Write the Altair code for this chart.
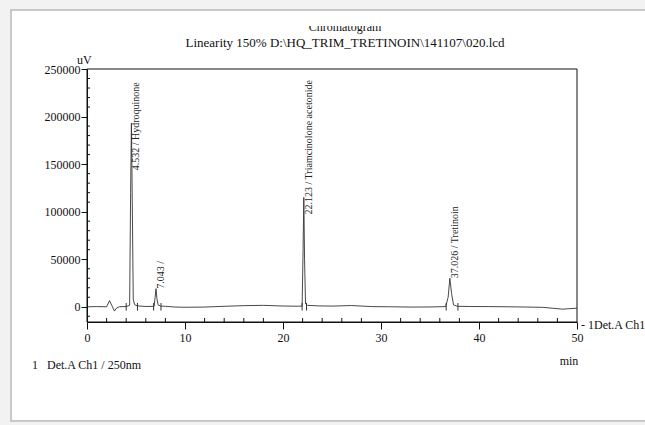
import altair as alt
import pandas as pd

# ---- data ----
trace_time = [0, 1.0, 2.0, 2.3, 2.55, 2.8, 3.0, 3.3, 4.0, 4.35, 4.45, 4.532, 4.62, 4.72, 4.85,
              5.0, 5.3, 6.0, 6.85, 6.95, 7.043, 7.13, 7.25, 7.5, 8, 9, 10, 12, 14, 16, 18, 20,
              21.5, 21.95, 22.05, 22.123, 22.2, 22.3, 22.5, 23.5, 25, 27, 29, 31, 33, 35, 36.6,
              36.85, 37.026, 37.2, 37.4, 37.8, 39, 41, 43, 45, 46.5, 47.5, 48.5, 49.2, 50]
trace_uv = [0, 200, 0, 6500, 1000, -4500, -1500, 0, 300, 1500, 120000, 193000, 110000, 8000, 2500,
            1500, 800, 300, 500, 10000, 19000, 9000, 2000, 800, 500, -300, -500, -300, 500, 1200, 1500, 800,
            600, 700, 60000, 115000, 50000, 3000, 1500, 1000, 700, 1300, 200, 0, -300, -200, 200,
            10000, 30000, 14000, 2000, 500, 300, 200, 0, -300, -600, -1500, -2500, -2000, -1500]

peak_times = [4.532, 7.043, 22.123, 37.026]
peak_labels = ["4.532 / Hydroquinone", "7.043 /", "22.123 / Triamcinolone acetonide", "37.026 / Tretinoin"]
label_uv = [143500, 19000, 97000, 30000]

marker_times = [4.0, 5.15, 6.8, 7.55, 21.95, 22.4, 36.65, 37.85]

x_major = [0, 10, 20, 30, 40, 50]
x_minor = [2, 4, 6, 8, 12, 14, 16, 18, 22, 24, 26, 28, 32, 34, 36, 38, 42, 44, 46, 48]
y_major = [0, 50000, 100000, 150000, 200000, 250000]
y_minor = [-10000, 10000, 20000, 30000, 40000, 60000, 70000, 80000, 90000, 110000, 120000,
           130000, 140000, 160000, 170000, 180000, 190000, 210000, 220000, 230000, 240000]

title_text = "Linearity 150%  D:\\HQ_TRIM_TRETINOIN\\141107\\020.lcd"
FONT = "Liberation Serif"

trace = pd.DataFrame({"t": trace_time, "uv": trace_uv})
peaks = pd.DataFrame({"t": peak_times, "label": peak_labels, "uv": label_uv})
markers = pd.DataFrame({"t": marker_times, "uv": [-4000] * len(marker_times), "hi": [4000] * len(marker_times)})
xmin_df = pd.DataFrame({"t": x_minor})
ymin_df = pd.DataFrame({"uv": y_minor})
one = pd.DataFrame({"a": [0]})

xs = alt.Scale(domain=[0, 50], nice=False, zero=False)
ys = alt.Scale(domain=[-16000, 250000], nice=False, zero=False)

x_axis = alt.Axis(values=x_major, title=None, zindex=2, labelOverlap=False, format="d",
                  tickSize=7, labelPadding=3, labelFlush=False)
y_axis = alt.Axis(values=y_major, title=None, zindex=2, labelOverlap=False, format="d",
                  tickSize=6, labelPadding=1, labelFlush=False)

X = alt.X("t:Q", scale=xs, axis=x_axis)
Y = alt.Y("uv:Q", scale=ys, axis=y_axis)

# page frame (decoration)
frame = alt.Chart(one).mark_rect(fill="white", stroke="#c8c8c8", strokeWidth=2).encode(
    x=alt.value(-76), x2=alt.value(570), y=alt.value(-59), y2=alt.value(352))

# plot box (decoration)
box = alt.Chart(one).mark_rect(fill=None, fillOpacity=0, stroke="#111111", strokeWidth=1).encode(
    x=alt.value(0), x2=alt.value(490), y=alt.value(0), y2=alt.value(253))

line = alt.Chart(trace).mark_line(color="#333333", strokeWidth=0.9, clip=False).encode(x=X, y=Y)

xminor = alt.Chart(xmin_df).mark_rule(color="#111111", strokeWidth=1).encode(
    x=X, y=alt.value(253), y2=alt.value(249))
yminor = alt.Chart(ymin_df).mark_rule(color="#111111", strokeWidth=1).encode(
    y=Y, x=alt.value(0), x2=alt.value(3))

mark_rules = alt.Chart(markers).mark_rule(color="#333333", strokeWidth=1).encode(
    x=X, y=Y, y2="hi:Q")

labels = alt.Chart(peaks).mark_text(angle=270, align="left", baseline="top", font=FONT,
                                    fontSize=10, color="#222222").encode(
    x=X, y=Y, text="label:N")

def txt(s, x, y, size=12, align="left", baseline="middle"):
    return alt.Chart(one).mark_text(text=s, font=FONT, fontSize=size, align=align,
                                    baseline=baseline, color="#111111").encode(
        x=alt.value(x), y=alt.value(y))

chrom = txt("Chromatogram", 258, -42, size=12, align="center")
cover = alt.Chart(one).mark_rect(fill="white").encode(
    x=alt.value(180), x2=alt.value(340), y=alt.value(-56), y2=alt.value(-43))
title = txt(title_text, 258, -26, size=13, align="center")
uv = txt("uV", -10, -9, size=12, align="left")
det = txt("- 1Det.A Ch1", 494, 256, size=12, align="left")
minlbl = txt("min", 482, 292, size=12, align="center")
legend1 = txt("1", -55, 296, size=12, align="left")
legend2 = txt("Det.A Ch1 / 250nm", -40, 296, size=12, align="left")

chart = alt.layer(frame, box, line, xminor, yminor, mark_rules, labels, chrom, cover, title, uv,
                  det, minlbl, legend1, legend2).properties(
    width=490, height=253,
    padding={"left": 87, "top": 69, "right": 68, "bottom": 103},
    autosize=alt.AutoSizeParams(type="none"),
    background="#f2f2f2",
).configure_view(stroke=None).configure_axis(
    labelFont=FONT, labelFontSize=12, labelColor="#111111", domainColor="#111111",
    tickColor="#111111", grid=False, domainWidth=1
)

chart.save("out.html", embed_options={"renderer": "svg", "actions": False})
